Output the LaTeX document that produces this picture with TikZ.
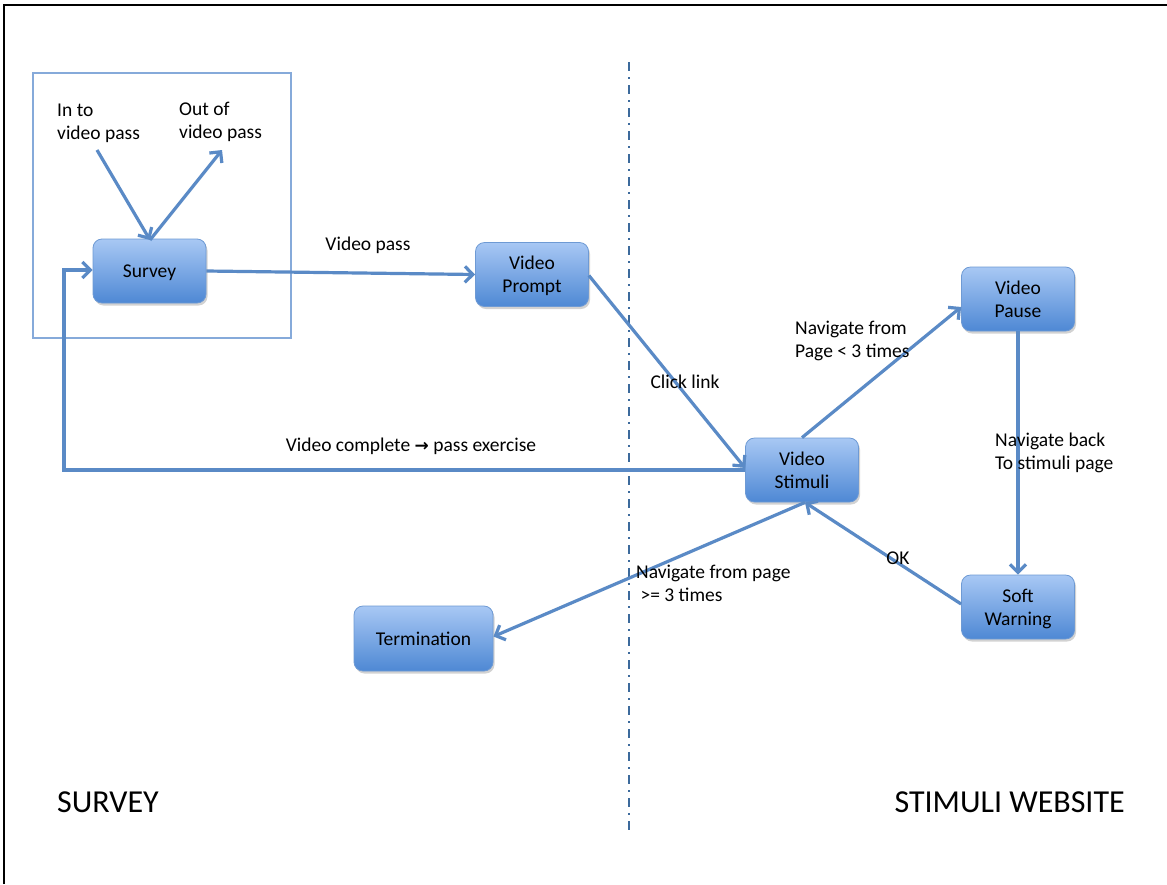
\documentclass[tikz,border=0pt]{standalone}
\usepackage{fontspec}
\setmainfont{Carlito}
\newfontfamily\symfont{DejaVu Sans}
\usetikzlibrary{arrows.meta,shadows,calc}
\definecolor{arr}{HTML}{5A8AC6}
\definecolor{nodeborder}{HTML}{6E9AD4}
\definecolor{ntop}{HTML}{A8C8F4}
\definecolor{nbot}{HTML}{4E88D4}
\definecolor{divc}{HTML}{3C6A9C}
\definecolor{boxc}{HTML}{86AADA}
\tikzset{
  statebox/.style={draw=nodeborder, line width=0.8pt, rounded corners=9pt,
    top color=ntop, bottom color=nbot, minimum width=113pt, minimum height=64pt,
    align=center, font=\fontsize{19.5}{23}\selectfont, text depth=-1pt,
    drop shadow={shadow xshift=1.5pt, shadow yshift=-2.5pt, opacity=0.35}},
  conn/.style={draw=arr, line width=3.2pt, -{Straight Barb[length=8pt,width=16pt,line width=3.2pt]}},
  lbl/.style={font=\fontsize{19.5}{23}\selectfont, align=left, inner sep=0pt},
  big/.style={font=\fontsize{32}{36}\selectfont, inner sep=0pt}
}
\begin{document}
\begin{tikzpicture}[x=1pt,y=-1pt]
\useasboundingbox (0,0) rectangle (1167,884);
\fill[white] (0,0) rectangle (1167,884);
% frame
\draw[black, line width=2pt] (4,884) -- (4,5) -- (1167,5);
% survey box
\draw[boxc, line width=1.2pt] (33,73) rectangle (291,338);
% divider
\draw[divc, line width=2.4pt, dash pattern=on 9pt off 6pt on 2pt off 6pt] (629,62) -- (629,830);

% nodes
\node[statebox] (survey) at (149.5,271) {Survey};
\node[statebox] (prompt) at (532,274.5) {Video\\Prompt};
\node[statebox] (stimuli) at (802,470) {Video\\Stimuli};
\node[statebox] (pause) at (1018,299) {Video\\Pause};
\node[statebox] (soft) at (1018,607) {Soft\\Warning};
\node[statebox, minimum width=139pt, minimum height=65pt] (term) at (423.5,638.5) {Termination};

% texts
\node[lbl, anchor=north west] (into) at (57,104) {In to\\video pass};
\node[lbl, anchor=north west] (outof) at (179,102) {Out of\\video pass};
\coordinate (inS) at (97,150);
\coordinate (outE) at (222,150);
\coordinate (topS) at (150,240);

\draw[conn] (inS) -- (topS);
\draw[conn] (topS) -- (outE);

% survey -> prompt
\draw[conn] (survey.east) -- (prompt.west);
\node[lbl] at (368,245) {Video pass};

% prompt -> stimuli
\draw[conn] ($(prompt.east)+(0,1)$) -- ($(stimuli.west)+(0,-2)$);
\node[lbl] at (685,382) {Click link};

% stimuli -> survey
\coordinate (c1) at (64,470);
\coordinate (c2) at (64,270);
\draw[conn] (stimuli.west) -- (c1) -- (c2) -- (survey.west |- c2);
\node[lbl] at (411,446) {Video complete {\symfont\bfseries\fontsize{17}{23}\selectfont →} pass exercise};

% stimuli -> pause
\draw[conn] (stimuli.north) -- ($(pause.west)+(0,8)$);
\node[lbl, anchor=north west] at (795,321) {Navigate from\\Page < 3 times};

% pause -> soft
\draw[conn] (pause.south) -- (soft.north);
\node[lbl, anchor=north west] at (995,433) {Navigate back\\To stimuli page};

% soft -> stimuli
\draw[conn] ($(soft.west)+(0,-3)$) -- ($(stimuli.south)+(3,0)$);
\node[lbl] at (898,558) {OK};

% stimuli -> term
\draw[conn] ($(stimuli.south)+(3,0)$) -- ($(term.east)+(0,-2)$);
\node[lbl, anchor=north west] at (636,565) {Navigate from page\\\ >= 3 times};

% region labels
\node[big, anchor=west] at (57,802) {SURVEY};
\node[big, anchor=east] at (1125,802) {STIMULI WEBSITE};
\end{tikzpicture}
\end{document}
